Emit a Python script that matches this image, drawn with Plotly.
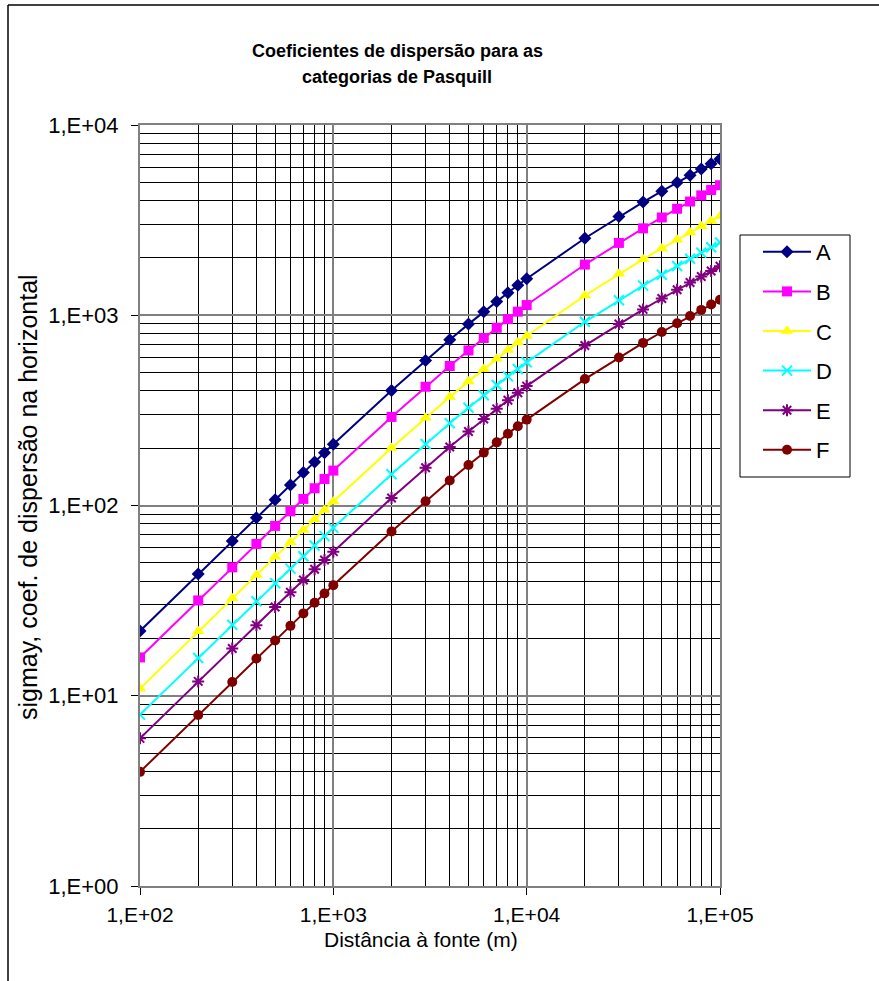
import plotly.graph_objects as go

# distance from source (m)
distance = [100, 200, 300, 400, 500, 600, 700, 800, 900, 1000,
            2000, 3000, 4000, 5000, 6000, 7000, 8000, 9000, 10000,
            20000, 30000, 40000, 50000, 60000, 70000, 80000, 90000, 100000]

sigma_A = [21.9, 43.6, 65.0, 86.3, 107.3, 128.2, 148.9, 169.4, 189.6, 209.8,
           401.7, 578.9, 743.7, 898.2, 1043.6, 1181.1, 1311.8, 1436.5, 1555.6,
           2540.3, 3300.0, 3935.5, 4490.7, 4989.1, 5444.7, 5866.7, 6261.3, 6633.3]
sigma_B = [15.9, 31.7, 47.3, 62.8, 78.1, 93.2, 108.3, 123.2, 137.9, 152.6,
           292.1, 421.0, 540.9, 653.2, 759.0, 859.0, 954.1, 1044.7, 1131.4,
           1847.5, 2400.0, 2862.2, 3266.0, 3628.5, 3959.8, 4266.7, 4553.7, 4824.2]
sigma_C = [10.9, 21.8, 32.5, 43.1, 53.7, 64.1, 74.4, 84.7, 94.8, 104.9,
           200.8, 289.4, 371.9, 449.1, 521.8, 590.6, 655.9, 718.2, 777.8,
           1270.2, 1650.0, 1967.7, 2245.4, 2494.6, 2722.4, 2933.3, 3130.7, 3316.6]
sigma_D = [7.96, 15.8, 23.6, 31.4, 39.0, 46.6, 54.1, 61.6, 69.0, 76.3,
           146.1, 210.5, 270.4, 326.6, 379.5, 429.5, 477.0, 522.3, 565.7,
           923.8, 1200.0, 1431.1, 1633.0, 1814.2, 1979.9, 2133.3, 2276.8, 2412.1]
sigma_E = [5.97, 11.9, 17.7, 23.5, 29.3, 35.0, 40.6, 46.2, 51.7, 57.2,
           109.5, 157.9, 202.8, 244.9, 284.6, 322.1, 357.8, 391.8, 424.3,
           692.8, 900.0, 1073.3, 1224.7, 1360.7, 1484.9, 1600.0, 1707.6, 1809.1]
sigma_F = [3.98, 7.92, 11.8, 15.7, 19.5, 23.3, 27.1, 30.8, 34.5, 38.1,
           73.0, 105.2, 135.2, 163.3, 189.7, 214.7, 238.5, 261.2, 282.8,
           461.9, 600.0, 715.5, 816.5, 907.1, 990.0, 1066.7, 1138.4, 1206.1]

categories = ["A", "B", "C", "D", "E", "F"]
series = [sigma_A, sigma_B, sigma_C, sigma_D, sigma_E, sigma_F]
colors = ["#000080", "#FF00FF", "#FFFF00", "#00FFFF", "#800080", "#800000"]
symbols = ["diamond", "square", "triangle-up", "x-thin-open", "asterisk-open", "circle"]
msizes = [10, 10, 11, 10, 10, 10]

x_tickvals = [100, 1000, 10000, 100000]
x_ticktext = ["1,E+02", "1,E+03", "1,E+04", "1,E+05"]
y_tickvals = [1, 10, 100, 1000, 10000]
y_ticktext = ["1,E+00", "1,E+01", "1,E+02", "1,E+03", "1,E+04"]

FONT = "Liberation Sans, Arial, sans-serif"

fig = go.Figure()
for name, ys, c, s, ms in zip(categories, series, colors, symbols, msizes):
    marker = dict(symbol=s, size=ms, color=c)
    if s.endswith("-open"):
        marker["line"] = dict(color=c, width=2)
    fig.add_trace(go.Scatter(
        x=distance, y=ys, name=name, mode="lines+markers",
        line=dict(color=c, width=2), marker=marker,
        legendgroup=name,
    ))

axis_common = dict(
    type="log",
    showline=True, linecolor="#808080", linewidth=2, mirror=True,
    showgrid=True, gridcolor="#808080", gridwidth=1.5,
    ticks="outside", ticklen=7, tickcolor="#000000", tickwidth=1,
    zeroline=False,
    minor=dict(dtick="D1", showgrid=True, gridcolor="#000000", gridwidth=1, ticks=""),
)

fig.update_xaxes(range=[2, 5], tickmode="array", tickvals=x_tickvals, ticktext=x_ticktext,
                 ticklabelstandoff=2, tickfont=dict(family=FONT, size=21, color="#000000"),
                 **axis_common)
fig.update_yaxes(range=[0, 4], tickmode="array", tickvals=y_tickvals, ticktext=y_ticktext,
                 ticklabelstandoff=8, tickfont=dict(family=FONT, size=22, color="#000000"),
                 **axis_common)

L, R, T, B = 140, 159, 125, 95
W, H = 879, 981
pw, ph = W - L - R, H - T - B

def px(xp):
    return (xp - L) / pw

def py(yp):
    return (H - B - yp) / ph

fig.update_layout(
    width=W, height=H,
    margin=dict(l=L, r=R, t=T, b=B, autoexpand=False),
    paper_bgcolor="white", plot_bgcolor="white",
    showlegend=True,
    legend=dict(
        x=px(758), y=py(231), xanchor="left", yanchor="top",
        borderwidth=0, bgcolor="rgba(0,0,0,0)",
        font=dict(family=FONT, size=22, color="#000000"),
        tracegroupgap=8, itemwidth=48, traceorder="grouped",
    ),
    annotations=[
        dict(text="<b>Coeficientes de dispersão para as</b>",
             x=px(397), y=py(51), xref="paper", yref="paper",
             xanchor="center", yanchor="middle", showarrow=False,
             font=dict(family=FONT, size=18, color="#000000")),
        dict(text="<b>categorias de Pasquill</b>",
             x=px(397), y=py(77), xref="paper", yref="paper",
             xanchor="center", yanchor="middle", showarrow=False,
             font=dict(family=FONT, size=18, color="#000000")),
        dict(text="Distância à fonte (m)",
             x=px(421), y=py(939), xref="paper", yref="paper",
             xanchor="center", yanchor="middle", showarrow=False,
             font=dict(family=FONT, size=21, color="#000000")),
        dict(text="sigmay, coef. de dispersão na horizontal",
             x=px(28), y=py(497), xref="paper", yref="paper",
             xanchor="center", yanchor="middle", showarrow=False, textangle=-90,
             font=dict(family=FONT, size=25, color="#000000")),
    ],
    shapes=[
        dict(type="line", xref="paper", yref="paper",
             x0=px(8), x1=px(8), y0=py(981), y1=py(5),
             line=dict(color="#000000", width=1.5)),
        dict(type="line", xref="paper", yref="paper",
             x0=px(8), x1=px(879), y0=py(5), y1=py(5),
             line=dict(color="#000000", width=1.5)),
        dict(type="rect", xref="paper", yref="paper",
             x0=px(740), x1=px(850), y0=py(477), y1=py(235),
             line=dict(color="#000000", width=1), fillcolor="rgba(0,0,0,0)"),
    ],
)

fig.write_html("out.html")
